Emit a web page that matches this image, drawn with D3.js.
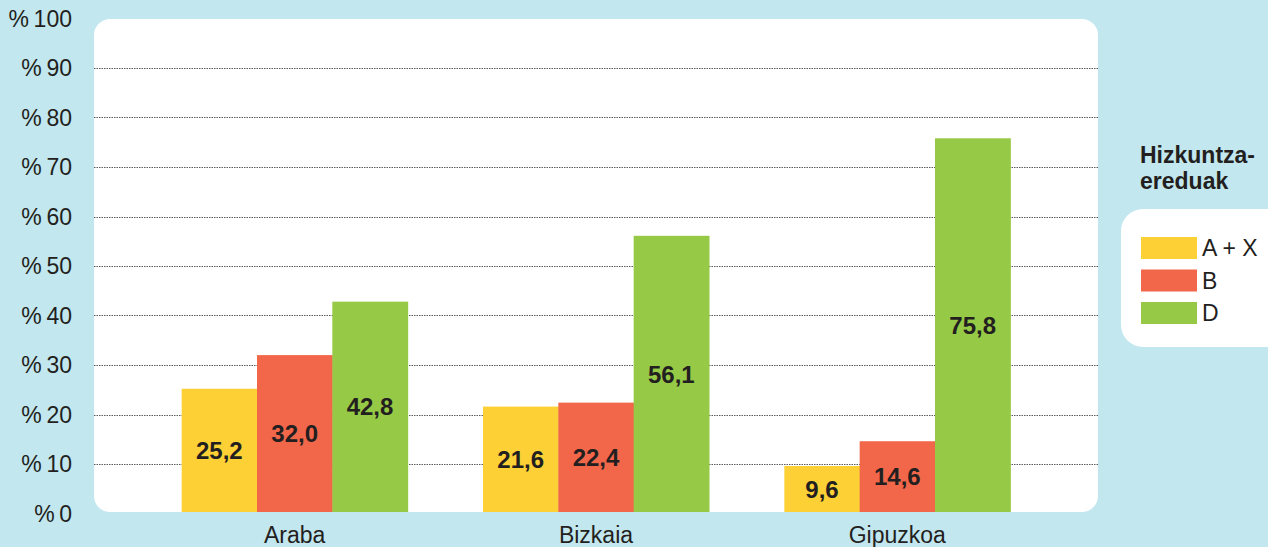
<!DOCTYPE html>
<html lang="eu">
<head>
	<meta charset="UTF-8"/>
	<title>Hizkuntza-ereduak</title>
	<script src="https://d3js.org/d3.v7.min.js"></script>
	<style>
		body { margin: 0; background: #c2e7ef; }
		svg { display: block; font-family: "Liberation Sans", Arial, sans-serif; }
	</style>
</head>
<body>
	<script>

		var w = 1268;
		var h = 547;

		// data
		var provinces = ["Araba", "Bizkaia", "Gipuzkoa"];
		var models = ["A + X", "B", "D"];
		var valuesAX = [25.2, 21.6, 9.6];
		var valuesB = [32.0, 22.4, 14.6];
		var valuesD = [42.8, 56.1, 75.8];
		var yTicks = [0, 10, 20, 30, 40, 50, 60, 70, 80, 90, 100];
		var colors = ["#fdd036", "#f2674a", "#96c945"];

		var series = [valuesAX, valuesB, valuesD];
		var rows = provinces.map(function(p, i){
			return models.map(function(m, j){
				return {province: p, model: m, value: series[j][i], j: j};
			});
		});

		var panel = {x0: 94, x1: 1098, y0: 19, y1: 512};

		var yScale = d3.scaleLinear()
						.domain([0, 100])
						.range([513.5, 18.5]);

		var xScale = d3.scaleBand()
						.domain(provinces)
						.range([144, 1048])
						.paddingInner(0.25)
						.paddingOuter(0.125);

		var xSub = d3.scaleBand()
						.domain(models)
						.range([0, xScale.bandwidth()]);

		var svg = d3.select("body")
					.append("svg")
					.attr("width", w)
					.attr("height", h);

		svg.append("rect")
			.attr("width", w)
			.attr("height", h)
			.attr("fill", "#c2e7ef");

		// white plot panel
		svg.append("rect")
			.attr("x", panel.x0)
			.attr("y", panel.y0)
			.attr("width", panel.x1 - panel.x0)
			.attr("height", panel.y1 - panel.y0)
			.attr("rx", 16)
			.attr("fill", "#ffffff");

		// dotted gridlines
		svg.selectAll("line.grid")
			.data(yTicks.filter(function(d){ return d > 0 && d < 100; }))
			.enter()
			.append("line")
			.attr("class", "grid")
			.attr("x1", panel.x0)
			.attr("x2", panel.x1)
			.attr("y1", function(d){ return Math.round(yScale(d)) + 0.5; })
			.attr("y2", function(d){ return Math.round(yScale(d)) + 0.5; })
			.attr("stroke", "#5a5a5a")
			.attr("stroke-width", 1)
			.attr("stroke-dasharray", "1.5,1");

		// y tick labels
		svg.selectAll("text.ytick")
			.data(yTicks)
			.enter()
			.append("text")
			.attr("class", "ytick")
			.attr("x", 72)
			.attr("y", function(d){ return yScale(d); })
			.attr("dy", "0.36em")
			.attr("text-anchor", "end")
			.attr("font-size", 23)
			.attr("fill", "#231f20")
			.text(function(d){ return "%\u2009" + d; });

		// bars
		var groups = svg.selectAll("g.group")
			.data(rows)
			.enter()
			.append("g")
			.attr("class", "group")
			.attr("transform", function(d, i){
				return "translate(" + xScale(provinces[i]) + ",0)";
			});

		groups.selectAll("rect")
			.data(function(d){ return d; })
			.enter()
			.append("rect")
			.attr("x", function(d){ return xSub(d.model); })
			.attr("y", function(d){ return yScale(d.value); })
			.attr("width", xSub.bandwidth() + 0.5)
			.attr("height", function(d){ return panel.y1 - yScale(d.value); })
			.attr("fill", function(d){ return colors[d.j]; });

		groups.selectAll("text")
			.data(function(d){ return d; })
			.enter()
			.append("text")
			.attr("x", function(d){ return xSub(d.model) + xSub.bandwidth() / 2; })
			.attr("y", function(d){ return (yScale(d.value) + panel.y1) / 2; })
			.attr("dy", "0.36em")
			.attr("text-anchor", "middle")
			.attr("font-size", 24)
			.attr("font-weight", "bold")
			.attr("fill", "#231f20")
			.text(function(d){ return d.value.toFixed(1).replace(".", ","); });

		// category labels
		svg.selectAll("text.xlab")
			.data(provinces)
			.enter()
			.append("text")
			.attr("class", "xlab")
			.attr("x", function(d){ return xScale(d) + xScale.bandwidth() / 2; })
			.attr("y", 543)
			.attr("text-anchor", "middle")
			.attr("font-size", 23)
			.attr("fill", "#231f20")
			.text(function(d){ return d; });

		// legend
		var legendTitle = svg.append("text")
			.attr("x", 1140)
			.attr("font-size", 23)
			.attr("font-weight", "bold")
			.attr("fill", "#231f20");
		legendTitle.append("tspan").attr("x", 1140).attr("y", 163).text("Hizkuntza-");
		legendTitle.append("tspan").attr("x", 1140).attr("y", 189).text("ereduak");

		svg.append("rect")
			.attr("x", 1121)
			.attr("y", 209)
			.attr("width", 170)
			.attr("height", 138)
			.attr("rx", 22)
			.attr("fill", "#ffffff");

		var legend = svg.selectAll("g.legend")
			.data(models)
			.enter()
			.append("g")
			.attr("class", "legend")
			.attr("transform", function(d, i){
				return "translate(1141," + (237 + i * 32.5) + ")";
			});

		legend.append("rect")
			.attr("width", 56)
			.attr("height", 22)
			.attr("fill", function(d, i){ return colors[i]; });

		legend.append("text")
			.attr("x", 61)
			.attr("y", 11)
			.attr("dy", "0.36em")
			.attr("font-size", 23)
			.attr("fill", "#231f20")
			.text(function(d){ return d; });

	</script>
</body>
</html>
